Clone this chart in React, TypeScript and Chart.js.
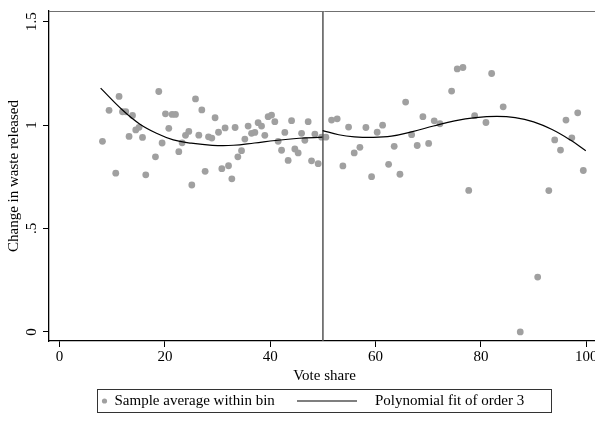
import React, { useEffect, useRef } from "react";
import { Chart, registerables } from "chart.js";

Chart.register(...registerables);

// Binned sample averages (x = vote share, y = change in waste released)
const binX = [
  8.15, 9.4, 10.67, 11.3, 11.95, 12.57, 13.2, 13.85, 14.47, 15.1, 15.75, 16.37,
  18.21, 18.84, 19.47, 20.11, 20.74, 21.37, 22.01, 22.64, 23.27, 23.91, 24.54, 25.11,
  25.81, 26.44, 27.01, 27.64, 28.28, 28.91, 29.53, 30.18, 30.81, 31.43, 32.08, 32.71,
  33.33, 33.85, 34.55, 35.18, 35.8, 36.45, 37.08, 37.7, 38.35, 38.97, 39.6, 40.25,
  40.87, 41.5, 42.15, 42.77, 43.4, 44.05, 44.67, 45.3, 45.95, 46.57, 47.2, 47.84,
  48.47, 49.1, 49.74, 50.56, 51.64, 52.71, 53.79, 54.87, 55.94, 57.02, 58.16, 59.24,
  60.3, 61.33, 62.47, 63.53, 64.62, 65.7, 66.84, 67.9, 68.98, 70.07, 71.13, 72.21,
  74.43, 75.5, 76.58, 77.68, 78.8, 80.95, 82.03, 84.22, 87.46, 90.77, 92.88, 94.0,
  95.1, 96.14, 97.25, 98.37, 99.43,
];
const binY = [
  0.921, 1.071, 0.767, 1.138, 1.064, 1.064, 0.945, 1.046, 0.976, 0.989, 0.94, 0.759,
  0.846, 1.162, 0.913, 1.054, 0.984, 1.051, 1.051, 0.871, 0.914, 0.95, 0.969, 0.71,
  1.126, 0.951, 1.073, 0.776, 0.943, 0.937, 1.035, 0.965, 0.789, 0.986, 0.803, 0.74,
  0.988, 0.846, 0.876, 0.932, 0.995, 0.96, 0.964, 1.011, 0.995, 0.95, 1.04, 1.048,
  1.016, 0.921, 0.878, 0.964, 0.829, 1.021, 0.884, 0.865, 0.96, 0.926, 1.016, 0.827,
  0.956, 0.813, 0.941, 0.941, 1.024, 1.03, 0.802, 0.99, 0.865, 0.892, 0.988, 0.75,
  0.965, 0.999, 0.81, 0.897, 0.762, 1.111, 0.953, 0.901, 1.04, 0.911, 1.02, 1.006,
  1.164, 1.271, 1.278, 0.684, 1.045, 1.012, 1.249, 1.088, 0.0, 0.265, 0.683, 0.928,
  0.879, 1.024, 0.938, 1.059, 0.78,
];

// Polynomial fit (order 3), left of the cutoff
const fitLeftX = [7.8, 12, 15.2, 18.4, 21.6, 25, 29, 33, 37, 41, 45.5, 49.9];
const fitLeftY = [1.178, 1.071, 1.005, 0.96, 0.928, 0.912, 0.902, 0.902, 0.913, 0.925, 0.936, 0.941];

// Polynomial fit (order 3), right of the cutoff
const fitRightX = [49.95, 53, 56, 59.5, 63, 67, 71, 75, 79, 83, 86.5, 90, 93.5, 97, 99.9];
const fitRightY = [0.973, 0.953, 0.943, 0.94, 0.946, 0.968, 0.995, 1.02, 1.036, 1.042, 1.036, 1.015, 0.978, 0.927, 0.876];

const cutoff = 50;

const xMin = -2;
const xMax = 102.6;
const yMin = -0.044;
const yMax = 1.551;

const xTicks = [0, 20, 40, 60, 80, 100];
const xTickLabels = ["0", "20", "40", "60", "80", "100"];
const yTicks = [0, 0.5, 1, 1.5];
const yTickLabels = ["0", ".5", "1", "1.5"];

const xTitle = "Vote share";
const yTitle = "Change in waste released";
const legendLabels = ["Sample average within bin", "Polynomial fit of order 3"];

const FONT = "'Liberation Serif', 'Times New Roman', serif";
const POINT_COLOR = "#a0a0a0";
const CANVAS_W = 630;
const CANVAS_H = 423;
const PLOT_RIGHT = 600;

export default function App() {
  const ref = useRef<HTMLCanvasElement>(null);

  useEffect(() => {
    const canvas = ref.current;
    if (!canvas) return;

    const pts = binX.map((x, i) => ({ x, y: binY[i] }));
    const left = fitLeftX.map((x, i) => ({ x, y: fitLeftY[i] }));
    const right = fitRightX.map((x, i) => ({ x, y: fitRightY[i] }));
    const vline = [
      { x: cutoff, y: yMin },
      { x: cutoff, y: yMax },
    ];

    const framePlugin = {
      id: "frameAndLegend",
      afterDraw(chart: any) {
        const { ctx, chartArea: a } = chart;
        ctx.save();
        // top / right frame of the plot region
        ctx.strokeStyle = "#707070";
        ctx.lineWidth = 1;
        ctx.beginPath();
        ctx.moveTo(a.left, a.top + 0.5);
        ctx.lineTo(a.right, a.top + 0.5);
        ctx.lineTo(a.right, a.bottom);
        ctx.stroke();

        // legend box
        const bx = 97.5, by = 389.5, bw = 454, bh = 23;
        ctx.strokeStyle = "#333";
        ctx.lineWidth = 1;
        ctx.strokeRect(bx, by, bw, bh);
        const cy = by + bh / 2;
        ctx.fillStyle = POINT_COLOR;
        ctx.beginPath();
        ctx.arc(bx + 7, cy, 2.6, 0, Math.PI * 2);
        ctx.fill();
        ctx.fillStyle = "#000";
        ctx.font = `15px ${FONT}`;
        ctx.textBaseline = "middle";
        ctx.textAlign = "left";
        ctx.fillText(legendLabels[0], bx + 17, cy + 0.5);
        ctx.strokeStyle = "#000";
        ctx.lineWidth = 1.2;
        ctx.beginPath();
        ctx.moveTo(297, cy);
        ctx.lineTo(357, cy);
        ctx.stroke();
        ctx.fillText(legendLabels[1], 375, cy + 0.5);
        ctx.restore();
      },
    };

    const chart = new Chart(canvas, {
      type: "scatter",
      data: {
        datasets: [
          {
            label: legendLabels[1],
            data: left,
            showLine: true,
            borderColor: "#000",
            borderWidth: 1.2,
            pointRadius: 0,
            tension: 0.4,
          },
          {
            label: legendLabels[1] + " (right)",
            data: right,
            showLine: true,
            borderColor: "#000",
            borderWidth: 1.2,
            pointRadius: 0,
            tension: 0.4,
          },
          {
            label: "cutoff",
            data: vline,
            showLine: true,
            borderColor: "#555",
            borderWidth: 1.5,
            pointRadius: 0,
          },
          {
            label: legendLabels[0],
            data: pts,
            backgroundColor: POINT_COLOR,
            borderWidth: 0,
            pointRadius: 3.4,
          },
        ],
      },
      options: {
        responsive: false,
        animation: false,
        devicePixelRatio: 1,
        layout: { padding: { left: 0, top: 6, right: CANVAS_W - PLOT_RIGHT, bottom: 38 } },
        plugins: {
          legend: { display: false },
          tooltip: { enabled: false },
        },
        scales: {
          x: {
            type: "linear",
            min: xMin,
            max: xMax,
            afterBuildTicks: (s: any) => {
              s.ticks = xTicks.map((v) => ({ value: v }));
            },
            afterFit: (s: any) => {
              s.height = 44;
            },
            border: { display: true, color: "#000", width: 1.3 },
            grid: { drawOnChartArea: false, drawTicks: true, tickLength: 6, color: "#000", lineWidth: 1 },
            ticks: {
              autoSkip: false,
              maxRotation: 0,
              padding: 1,
              color: "#000",
              font: { family: FONT, size: 15 },
              callback: (_v: any, i: number) => xTickLabels[i],
            },
            title: {
              display: true,
              text: xTitle,
              color: "#000",
              font: { family: FONT, size: 15 },
              padding: { top: 0, bottom: 0 },
            },
          },
          y: {
            type: "linear",
            min: yMin,
            max: yMax,
            afterBuildTicks: (s: any) => {
              s.ticks = yTicks.map((v) => ({ value: v }));
            },
            afterFit: (s: any) => {
              s.width = 49;
            },
            border: { display: true, color: "#000", width: 1.3 },
            grid: { drawOnChartArea: false, drawTicks: true, tickLength: 6, color: "#000", lineWidth: 1 },
            ticks: {
              autoSkip: false,
              minRotation: 90,
              maxRotation: 90,
              crossAlign: "center",
              padding: 2,
              color: "#000",
              font: { family: FONT, size: 15 },
              callback: (_v: any, i: number) => yTickLabels[i],
            },
            title: {
              display: true,
              text: yTitle,
              color: "#000",
              font: { family: FONT, size: 15 },
              padding: { top: 5, bottom: 0 },
            },
          },
        },
      },
      plugins: [framePlugin],
    });

    return () => chart.destroy();
  }, []);

  return (
    <div
      style={{
        position: "fixed",
        left: 0,
        top: 0,
        width: 595,
        height: 423,
        overflow: "hidden",
        background: "#fff",
      }}
    >
      <canvas ref={ref} width={CANVAS_W} height={CANVAS_H} style={{ display: "block", width: CANVAS_W, height: CANVAS_H }} />
    </div>
  );
}
